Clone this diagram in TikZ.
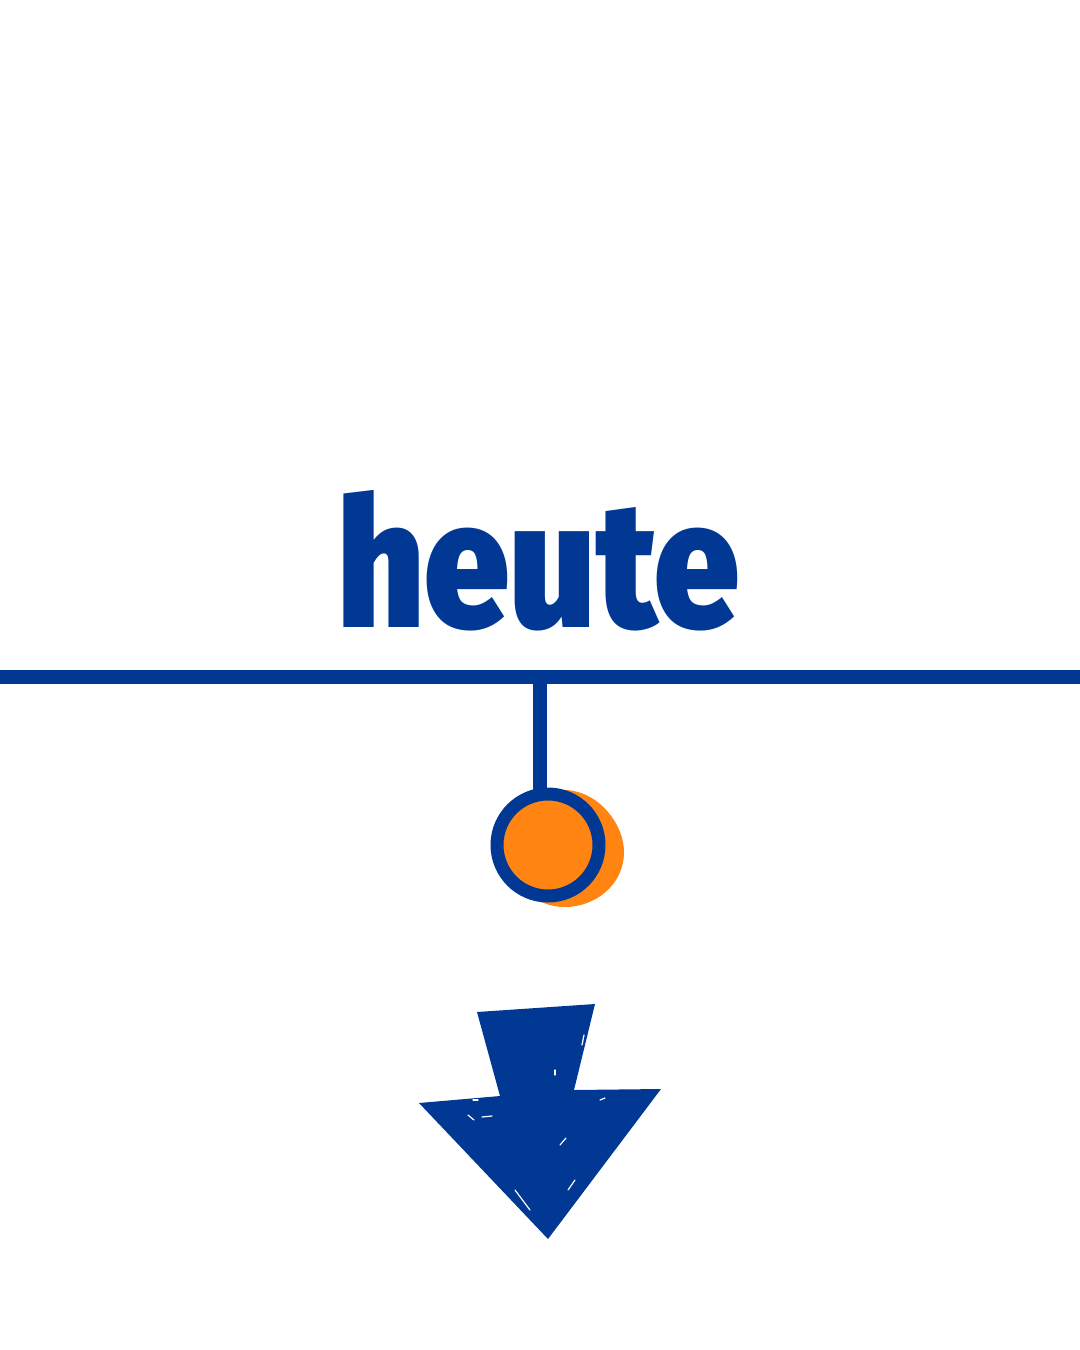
\documentclass[tikz,border=0pt]{standalone}
\usepackage{fontspec}
\setmainfont{Fira Sans Black}
\definecolor{navy}{HTML}{003893}
\definecolor{tangerine}{HTML}{FF8412}
\begin{document}
\begin{tikzpicture}[x=0.5pt,y=-0.5pt,
  bar/.style={draw=navy,line width=7pt},
  ring/.style={draw=navy,line width=6.5pt,fill=tangerine},
  title/.style={anchor=base west,inner sep=0pt,text=navy}]
\useasboundingbox (0,0) rectangle (1080,1350);
% title
\node[title] (word) at (337,627) {\resizebox{201pt}{68.5pt}{heute}};
% timeline
\coordinate (lineL) at (0,677);
\coordinate (lineR) at (1080,677);
\draw[bar] (lineL) -- (lineR);
\coordinate (stemTop) at (540,684);
\coordinate (stemBot) at (540,792);
\draw[bar] (stemTop) -- (stemBot);
% orange shadow blob
\fill[tangerine] (566,790) .. controls (600,792) and (624,825) .. (624,852)
  .. controls (624,885) and (595,907) .. (565,907)
  .. controls (535,907) and (510,885) .. (510,850)
  .. controls (510,815) and (535,790) .. (566,790) -- cycle;
% marker
\draw[ring] (548,845) circle[radius=25.5pt];
% arrow
\fill[navy] (477,1012) -- (595,1004) -- (574,1090)
  -- (661,1089) -- (548,1239)
  -- (419,1103) -- (500,1096) -- cycle;
% texture
\begin{scope}[white,line width=0.6pt,line cap=round]
\draw (515,1190) -- (530,1210);
\draw (468,1115) -- (474,1120);
\draw (482,1117) -- (492,1116);
\draw (560,1145) -- (566,1138);
\draw (582,1045) -- (584,1035);
\draw (555,1070) -- (555,1075);
\draw (568,1190) -- (575,1180);
\draw (600,1100) -- (605,1098);
\draw (473,1100) -- (478,1100);
\end{scope}
\end{tikzpicture}
\end{document}
